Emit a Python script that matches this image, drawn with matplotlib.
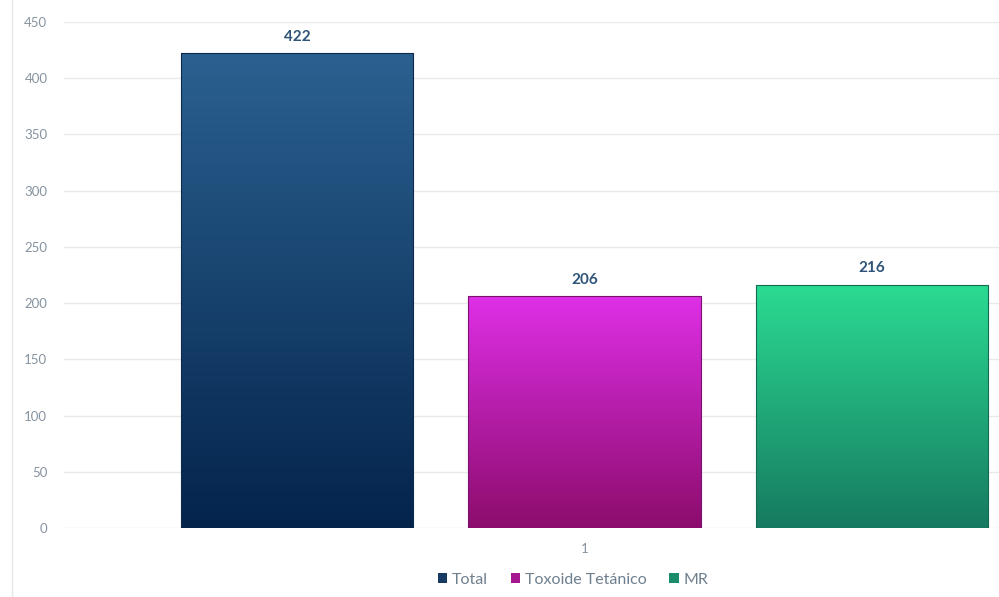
import matplotlib
matplotlib.use("Agg")
import matplotlib.pyplot as plt
import numpy as np
from matplotlib.colors import LinearSegmentedColormap
from matplotlib.lines import Line2D
from matplotlib.patches import Patch

# data
categories = ["1"]
series_names = ["Total", "Toxoide Tetánico", "MR"]
series_values = [422, 206, 216]
y_ticks = [0, 50, 100, 150, 200, 250, 300, 350, 400, 450]

# (top, bottom) gradient colours per series, plus legend swatch colour
grad_colors = [("#2b6190", "#04244c"), ("#de2fe6", "#8c0c6c"), ("#2bdb92", "#167a60")]
edge_colors = ["#0e2a4a", "#7a1070", "#136a52"]
legend_colors = ["#173a63", "#a5168f", "#1b8c6b"]

plt.rcParams["font.family"] = ["Lato", "DejaVu Sans"]

fig = plt.figure(figsize=(9.99, 5.97), dpi=100)
W, H = 999, 597
ax = fig.add_axes([64 / W, 1 - 528 / H, (1105 - 64) / W, (528 - 22) / H])

pitch = 1.0
width = 232 / 287
offsets = np.array([-1, 0, 1]) * pitch

bars = ax.bar(offsets, series_values, width=width, color="none", zorder=3)
for bar, (top, bot), ec, val in zip(bars, grad_colors, edge_colors, series_values):
    x0, w, h = bar.get_x(), bar.get_width(), bar.get_height()
    cmap = LinearSegmentedColormap.from_list("g", [bot, top])
    grad = np.linspace(0, 1, 256).reshape(-1, 1)
    im = ax.imshow(grad, cmap=cmap, aspect="auto", origin="lower",
                   extent=(x0, x0 + w, 0, h), zorder=3)
    im.set_clip_path(bar)
    bar.set_edgecolor(ec)
    bar.set_linewidth(0.8)
    bar.set_zorder(4)
    ax.annotate(str(val), (x0 + w / 2, h), xytext=(0, 7), textcoords="offset points",
                ha="center", va="bottom", fontsize=11, fontweight="bold",
                color="#2f5478")

ax.set_xlim(-1.8135, 1.8135)
ax.set_ylim(0, 450)
ax.set_yticks(y_ticks)
ax.set_xticks([0])
ax.set_xticklabels(categories)
ax.yaxis.grid(True, color="#e9e9e9", linewidth=1, zorder=0)
ax.set_axisbelow(True)
for s in ax.spines.values():
    s.set_visible(False)
ax.tick_params(axis="both", length=0, labelsize=9.5, colors="#8593a0")
ax.tick_params(axis="y", pad=12)
ax.tick_params(axis="x", pad=11)

# chart border on the left
fig.add_artist(Line2D([12 / W, 12 / W], [0, 1], color="#e4e6e8", linewidth=1))

handles = [Patch(facecolor=c) for c in legend_colors]
fig.legend(handles, series_names, loc="center", bbox_to_anchor=(573 / W, 1 - 580 / H),
           ncol=3, frameon=False, fontsize=11.5, handlelength=0.6, handleheight=0.6,
           handletextpad=0.3, columnspacing=1.4, labelcolor="#6e7f8e")

fig.savefig("out.png", dpi=100)
